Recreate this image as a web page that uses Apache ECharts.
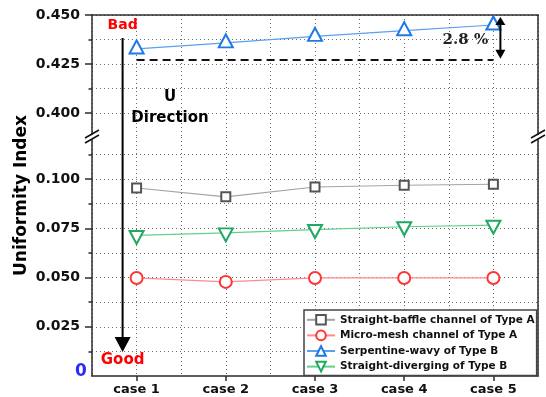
<!DOCTYPE html>
<html><head><meta charset="utf-8">
<script src="https://cdn.jsdelivr.net/npm/echarts@6/dist/echarts.min.js"></script>
<style>html,body{margin:0;padding:0;background:#fff}#c{width:546px;height:397px}</style>
</head><body><div id="c"></div>
<script>
const categories = ['case 1', 'case 2', 'case 3', 'case 4', 'case 5'];
const seriesNames = ['Straight-baffle channel of Type A', 'Micro-mesh channel of Type A', 'Serpentine-wavy of Type B', 'Straight-diverging of Type B'];
const straightBaffleA = [0.0955, 0.0910, 0.0960, 0.0969, 0.0974];
const microMeshA = [0.0498, 0.0478, 0.0498, 0.0498, 0.0498];
const serpentineWavyB = [0.4327, 0.4358, 0.4391, 0.4420, 0.4449];
const straightDivergingB = [0.0714, 0.0727, 0.0744, 0.0758, 0.0766];
const upperMajorTicks = [0.400, 0.425, 0.450];
const upperMinorTicks = [0.4125, 0.4375];
const lowerMajorTicks = [0.025, 0.050, 0.075, 0.100];
const lowerMinorTicks = [0.0125, 0.0375, 0.0625, 0.0875, 0.1125];
const upperRange = [0.3878, 0.45];
const lowerRange = [0, 0.1214];
const referenceLevel = 0.4272;
const percentLabel = '2.8 %';
const zeroLabel = '0';
const yTitle = 'Uniformity Index';

const FONT = 'DejaVu Sans';
const AXC = '#2b2b2b';
const DOT = {type: [1, 3], color: '#6a6a6a', width: 1};
const fmt = v => v.toFixed(3);

function catAxis(grid, bottom) {
  return {
    type: 'category', gridIndex: grid, data: categories, position: bottom ? 'bottom' : 'top',
    axisLine: {show: true, onZero: false, lineStyle: {color: AXC, width: 1.5}},
    axisTick: {show: bottom, alignWithLabel: true, length: 5, lineStyle: {color: AXC, width: 1.5}},
    axisLabel: {show: bottom, color: '#111', fontFamily: FONT, fontWeight: 'bold', fontSize: 13, margin: 7},
    splitLine: {show: false}
  };
}
function gridXAxis(grid) {
  return {
    type: 'value', gridIndex: grid, min: -0.5, max: categories.length - 0.5, interval: 0.5,
    axisLine: {show: false, onZero: false}, axisTick: {show: false}, axisLabel: {show: false},
    splitLine: {show: true, lineStyle: DOT}
  };
}
function yAxes(grid, range, major, minor) {
  return [
    {
      type: 'value', gridIndex: grid, min: range[0], max: range[1], position: 'left',
      axisLine: {show: true, onZero: false, lineStyle: {color: AXC, width: 1.5}},
      axisTick: {show: true, customValues: major, length: 7, lineStyle: {color: AXC, width: 1.5}},
      axisLabel: {show: true, customValues: major, formatter: fmt, color: '#111', fontFamily: FONT, fontWeight: 'bold', fontSize: 14, margin: 12},
      splitLine: {show: true, lineStyle: DOT}
    },
    {
      type: 'value', gridIndex: grid, min: range[0], max: range[1], position: 'left',
      axisLine: {show: false, onZero: false},
      axisTick: {show: true, customValues: minor, length: 3.5, lineStyle: {color: AXC, width: 1.5}},
      axisLabel: {show: false, customValues: minor},
      splitLine: {show: true, lineStyle: DOT}
    },
    {
      type: 'value', gridIndex: grid, min: range[0], max: range[1], position: 'right',
      axisLine: {show: true, onZero: false, lineStyle: {color: AXC, width: 1.5}},
      axisTick: {show: false}, axisLabel: {show: false}, splitLine: {show: false}
    }
  ];
}
function lineSeries(name, data, xi, yi, symbol, size, mk, ln, rot, off) {
  return {
    name: name, type: 'line', xAxisIndex: xi, yAxisIndex: yi, data: data,
    symbol: symbol, symbolSize: size, symbolRotate: rot || 0, symbolOffset: off || [0, 0],
    showAllSymbol: true, z: 4,
    itemStyle: {color: '#fff', borderColor: mk, borderWidth: 2},
    lineStyle: {color: ln, width: 1.2},
    emphasis: {disabled: true}
  };
}

const chart = echarts.init(document.getElementById('c'), null, {renderer: 'canvas'});
const blue = lineSeries(seriesNames[2], serpentineWavyB, 0, 0, 'triangle', [14, 13], '#1e78e6', '#5a9ff0', 0, [0, -2]);
blue.markLine = {
  silent: true, symbol: 'none', label: {show: false},
  lineStyle: {type: [8, 5], color: '#111', width: 2},
  data: [[{coord: [categories[0], referenceLevel]}, {coord: [categories[categories.length - 1], referenceLevel]}]]
};

chart.setOption({
  animation: false,
  backgroundColor: '#fff',
  textStyle: {fontFamily: FONT},
  grid: [
    {left: 92, right: 8, top: 15, height: 122, outerBoundsMode: 'none', containLabel: false},
    {left: 92, right: 8, top: 137, height: 239, outerBoundsMode: 'none', containLabel: false}
  ],
  xAxis: [catAxis(0, false), catAxis(1, true), gridXAxis(0), gridXAxis(1)],
  yAxis: [].concat(yAxes(0, upperRange, upperMajorTicks, upperMinorTicks), yAxes(1, lowerRange, lowerMajorTicks, lowerMinorTicks)),
  legend: {
    orient: 'vertical', left: 304, top: 310,
    backgroundColor: '#fff', borderColor: '#444', borderWidth: 1.5, borderRadius: 0,
    padding: [4, 2, 3, 2], itemGap: 4, itemWidth: 28, itemHeight: 12,
    textStyle: {fontFamily: FONT, fontWeight: 'bold', fontSize: 10.5, color: '#111'},
    data: seriesNames
  },
  series: [
    lineSeries(seriesNames[0], straightBaffleA, 1, 3, 'rect', 9, '#555555', '#a3a3a3'),
    lineSeries(seriesNames[1], microMeshA, 1, 3, 'circle', 12, '#ff3535', '#ff8a8a'),
    blue,
    lineSeries(seriesNames[3], straightDivergingB, 1, 3, 'triangle', [14, 13], '#22a862', '#62cf8e', 180, [0, 2])
  ]
});

// annotations positioned from the axes
const pTop = chart.convertToPixel({xAxisIndex: 0, yAxisIndex: 0}, [categories.length - 1, upperRange[1]]);
const pRef = chart.convertToPixel({xAxisIndex: 0, yAxisIndex: 0}, [categories.length - 1, referenceLevel]);
const pC1 = chart.convertToPixel({xAxisIndex: 1, yAxisIndex: 3}, [0, 0]);
const pGridTop = chart.convertToPixel({xAxisIndex: 0, yAxisIndex: 0}, [0, upperRange[1]]);
const pBreak = chart.convertToPixel({xAxisIndex: 0, yAxisIndex: 0}, [0, upperRange[0]]);
const ax = pC1[0] - 14;
const dx = pTop[0] + 7;
const leftX = 92, rightX = 546 - 8, by = pBreak[1];
const txt = (x, y, text, style) => ({type: 'text', x: x, y: y, silent: true, z: 10,
  style: Object.assign({text: text, align: 'center', verticalAlign: 'middle', fontFamily: FONT, fontWeight: 'bold', fill: '#000'}, style)});
const ln = (x1, y1, x2, y2, w, c) => ({type: 'line', silent: true, z: 10, shape: {x1: x1, y1: y1, x2: x2, y2: y2}, style: {stroke: c || '#000', lineWidth: w || 1.5}});
const poly = (pts, c) => ({type: 'polygon', silent: true, z: 10, shape: {points: pts}, style: {fill: c || '#000'}});
function breakMark(x) {
  return [
    poly([[x - 7, by + 2], [x + 7, by - 6], [x + 7, by - 2], [x - 7, by + 6]], '#fff'),
    ln(x - 7, by + 1, x + 7, by - 7, 1.5, '#111'),
    ln(x - 7, by + 6, x + 7, by - 2, 1.5, '#111')
  ];
}
const title = txt(22, (pGridTop[1] + pC1[1]) / 2, yTitle, {fontSize: 17});
title.rotation = Math.PI / 2;
chart.setOption({
  graphic: [
    title,
    txt(81, pC1[1] - 4, zeroLabel, {fontSize: 17, fill: '#2b2bff'}),
    txt(ax, 25, 'Bad', {fontSize: 14, fill: '#ff0000'}),
    txt(ax, 360, 'Good', {fontSize: 15, fill: '#ff0000'}),
    txt(170, 108, 'U\nDirection', {fontSize: 15, lineHeight: 21}),
    ln(ax, 38, ax, 340, 2),
    poly([[ax - 8, 337], [ax + 8, 337], [ax, 352]]),
    ln(dx, pTop[1] + 8, dx, pRef[1] - 8, 2),
    poly([[dx - 5, pTop[1] + 10], [dx + 5, pTop[1] + 10], [dx, pTop[1] + 2]]),
    poly([[dx - 5, pRef[1] - 10], [dx + 5, pRef[1] - 10], [dx, pRef[1] - 1]]),
    txt(dx - 35, (pTop[1] + pRef[1]) / 2 + 3, percentLabel, {fontSize: 15, fontFamily: 'DejaVu Serif', fill: '#222'})
  ].concat(breakMark(leftX)).concat(breakMark(rightX))
});
</script>
</body></html>
